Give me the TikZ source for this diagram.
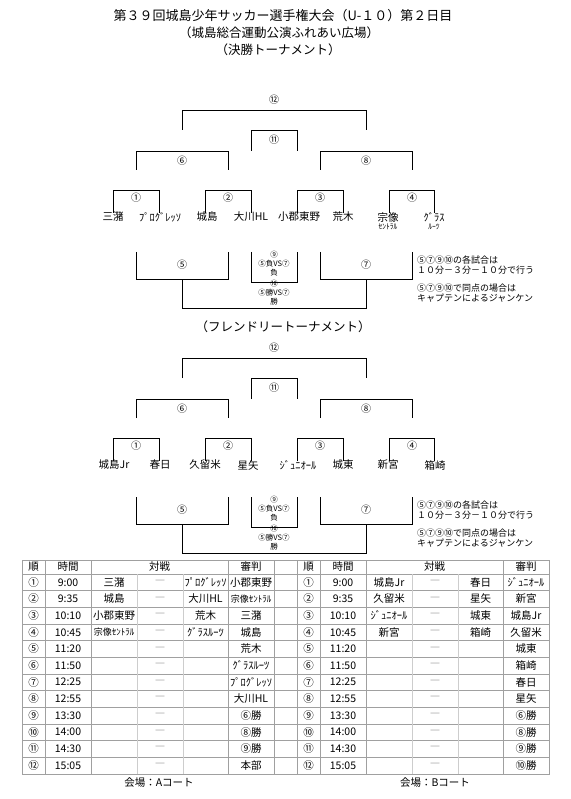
\documentclass[tikz,border=0pt]{standalone}
\usepackage{fontspec}
\setmainfont{Noto Sans CJK JP}
\usetikzlibrary{positioning}
\definecolor{rulegrey}{RGB}{160,160,160}
\definecolor{rulelight}{RGB}{205,205,205}
\definecolor{dashgrey}{RGB}{110,110,110}
\newcommand{\kbrack}[4]{\draw[brk] (#1,#4) |- (#2,#3) -- (#2,#4);}
\newcommand{\smtxt}[1]{{\fontsize{9}{10}\selectfont #1}}

\begin{document}
\begin{tikzpicture}[x=1pt,y=-1pt,every node/.style={inner sep=0pt},
  ttl/.style={font=\fontsize{12.5}{14}\selectfont},
  cnum/.style={font=\fontsize{10}{12}\selectfont},
  team/.style={font=\fontsize{10.5}{12}\selectfont},
  subname/.style={font=\fontsize{7.5}{9}\selectfont},
  mini/.style={font=\fontsize{7.5}{9}\selectfont,align=center},
  note/.style={font=\fontsize{9}{10.5}\selectfont,align=left,anchor=west},
  cell/.style={font=\fontsize{10.5}{12}\selectfont},
  brk/.style={line width=0.7pt},
  tbl/.style={line width=0.6pt,rulegrey},
  tbllt/.style={line width=0.6pt,rulelight}]
\useasboundingbox (0,0) rectangle (570,799);

% titles
\node[ttl,font=\fontsize{13}{15}\selectfont] (title) at (283,16) {第３９回城島少年サッカー選手権大会（U-１０）第２日目};
\node[ttl] (venue) at (279,33) {（城島総合運動公演ふれあい広場）};
\node[ttl] (final) at (278,50) {（決勝トーナメント）};
\node[ttl] (friendly) at (283,327) {（フレンドリートーナメント）};

% upper trees
\foreach \dy in {0,248}{
  \kbrack{182}{366}{110+\dy}{130+\dy}
  \kbrack{251}{297}{130+\dy}{151+\dy}
  \kbrack{136}{228}{151+\dy}{170+\dy}
  \kbrack{320}{412}{151+\dy}{170+\dy}
  \kbrack{113}{159}{190+\dy}{213+\dy}
  \kbrack{205}{251}{190+\dy}{213+\dy}
  \kbrack{297}{343}{190+\dy}{213+\dy}
  \kbrack{389}{434}{190+\dy}{213+\dy}
}
\foreach \dy/\tg in {0/a,248/b}{
  \node[cnum] (\tg12) at (274,100+\dy) {⑫};
  \node[cnum] (\tg11) at (274,140+\dy) {⑪};
  \node[cnum] (\tg6) at (182,161+\dy) {⑥};
  \node[cnum] (\tg8) at (366,161+\dy) {⑧};
  \node[cnum] (\tg1) at (136,198+\dy) {①};
  \node[cnum] (\tg2) at (228,198+\dy) {②};
  \node[cnum] (\tg3) at (320,198+\dy) {③};
  \node[cnum] (\tg4) at (412,198+\dy) {④};
}

% lower brackets and notes
\foreach \dy/\tg in {0/a,245/b}{
  \kbrack{136}{228}{279+\dy}{252+\dy}
  \kbrack{251}{297}{282+\dy}{252+\dy}
  \kbrack{320}{412}{279+\dy}{252+\dy}
  \kbrack{182}{366}{308+\dy}{279+\dy}
  \node[cnum] (\tg5) at (182,265+\dy) {⑤};
  \node[cnum] (\tg7) at (366,265+\dy) {⑦};
  \node[mini] (\tg9) at (274,264+\dy) {⑨\\⑤負VS⑦\\負};
  \node[mini] (\tg10) at (274,293+\dy) {⑩\\⑤勝VS⑦\\勝};
  \node[note] (\tg n1) at (417,265+\dy) {⑤⑦⑨⑩の各試合は\\１０分－３分－１０分で行う};
  \node[note] (\tg n2) at (417,293+\dy) {⑤⑦⑨⑩で同点の場合は\\キャプテンによるジャンケン};
}

% team names
\foreach \x/\nm [count=\i] in {113/三潴,160/ﾌﾟﾛｸﾞﾚｯｿ,207/城島,251/大川HL,299/小郡東野,343/荒木,388/宗像,434/ｸﾞﾗｽ}
  \node[team] (ta\i) at (\x,217) {\nm};
\node[subname,below=1.5pt of ta7] (ta7s) {ｾﾝﾄﾗﾙ};
\node[subname,below=1.5pt of ta8] (ta8s) {ﾙｰﾂ};
\foreach \x/\nm [count=\i] in {114/城島Jr,160/春日,205/久留米,248/星矢,298/ｼﾞｭﾆｵｰﾙ,343/城東,388/新宮,435/箱崎}
  \node[team] (tb\i) at (\x,465) {\nm};

% schedule table
\draw[tbl] (22,560) rectangle (549,773.8);
\foreach \k in {0,...,11}
  \draw[tbl] (22,{574+16.65*\k}) -- (549,{574+16.65*\k});
\foreach \x in {45,91,228,274,297,320,366,503}
  \draw[tbl] (\x,560) -- (\x,773.8);
\foreach \x in {137,183,412,458}
  \draw[tbllt] (\x,574) -- (\x,773.8);

\foreach \x/\hd/\tg in {33.5/順/ha1,68/時間/ha2,159.5/対戦/ha3,251/審判/ha4,308.5/順/hb1,343/時間/hb2,434.5/対戦/hb3,526/審判/hb4}
  \node[cell] (\tg) at (\x,567) {\hd};

\foreach \no/\tm/\pa/\pb/\rf [count=\i] in {①/9:00/三潴/ﾌﾟﾛｸﾞﾚｯｿ/小郡東野,②/9:35/城島/大川HL/\smtxt{宗像ｾﾝﾄﾗﾙ},③/10:10/小郡東野/荒木/三潴,④/10:45/\smtxt{宗像ｾﾝﾄﾗﾙ}/ｸﾞﾗｽﾙｰﾂ/城島,⑤/11:20/{}/{}/荒木,⑥/11:50/{}/{}/ｸﾞﾗｽﾙｰﾂ,⑦/12:25/{}/{}/ﾌﾟﾛｸﾞﾚｯｿ,⑧/12:55/{}/{}/大川HL,⑨/13:30/{}/{}/⑥勝,⑩/14:00/{}/{}/⑧勝,⑪/14:30/{}/{}/⑨勝,⑫/15:05/{}/{}/本部}{
  \node[cell] (Ano\i) at (33.5,{574+16.65*(\i-0.5)}) {\no};
  \node[cell] (Atm\i) at (68,{574+16.65*(\i-0.5)}) {\tm};
  \node[cell] (Apa\i) at (114,{574+16.65*(\i-0.5)}) {\pa};
  \node[cell,dashgrey] (Ads\i) at (160,{574+16.65*(\i-0.5)}) {―};
  \node[cell] (Apb\i) at (205.5,{574+16.65*(\i-0.5)}) {\pb};
  \node[cell] (Arf\i) at (251,{574+16.65*(\i-0.5)}) {\rf};
}
\foreach \no/\tm/\pa/\pb/\rf [count=\i] in {①/9:00/城島Jr/春日/ｼﾞｭﾆｵｰﾙ,②/9:35/久留米/星矢/新宮,③/10:10/ｼﾞｭﾆｵｰﾙ/城東/城島Jr,④/10:45/新宮/箱崎/久留米,⑤/11:20/{}/{}/城東,⑥/11:50/{}/{}/箱崎,⑦/12:25/{}/{}/春日,⑧/12:55/{}/{}/星矢,⑨/13:30/{}/{}/⑥勝,⑩/14:00/{}/{}/⑧勝,⑪/14:30/{}/{}/⑨勝,⑫/15:05/{}/{}/⑩勝}{
  \node[cell] (Bno\i) at (308.5,{574+16.65*(\i-0.5)}) {\no};
  \node[cell] (Btm\i) at (343,{574+16.65*(\i-0.5)}) {\tm};
  \node[cell] (Bpa\i) at (389,{574+16.65*(\i-0.5)}) {\pa};
  \node[cell,dashgrey] (Bds\i) at (435,{574+16.65*(\i-0.5)}) {―};
  \node[cell] (Bpb\i) at (480.5,{574+16.65*(\i-0.5)}) {\pb};
  \node[cell] (Brf\i) at (526,{574+16.65*(\i-0.5)}) {\rf};
}

\node[cell] (courtA) at (159,783) {会場：Aコート};
\node[cell] (courtB) at (435,783) {会場：Bコート};
\end{tikzpicture}
\end{document}
